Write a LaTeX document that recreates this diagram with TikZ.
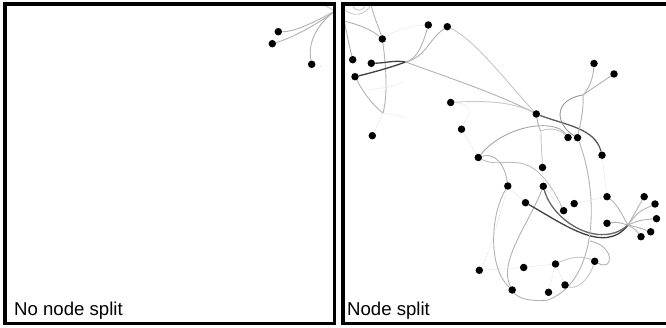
\documentclass[tikz,border=0pt]{standalone}
\usepackage{fontspec}
\setmainfont{Liberation Sans}
\usetikzlibrary{positioning,backgrounds}
\tikzset{
	vertex/.style={circle,fill=black,inner sep=0pt,minimum size=7.5pt},
	bundle/.style={black!30,line width=0.9pt},
	strong/.style={black!75,line width=1.3pt},
	faint/.style={black!18,densely dotted,line width=0.6pt},
	frame/.style={line width=3.5pt},
	caption/.style={anchor=base west,inner sep=0pt,font=\fontsize{18.6}{20}\selectfont}
}

\begin{document}
\begin{tikzpicture}[x=1pt,y=-1pt]
\useasboundingbox (0,0) rectangle (666,328);

% left panel
\node[vertex] (l1) at (278.3,31.7) {};
\node[vertex] (l2) at (272.3,43.7) {};
\node[vertex] (l3) at (311.7,64.3) {};
\coordinate (cL) at (335,11);
\coordinate (cLtop) at (320,3);
\coordinate (cLtick) at (322,67);

% right panel
\node[vertex] (r1) at (428.3,25) {};
\node[vertex] (r2) at (447.3,26.7) {};
\node[vertex] (r3) at (382.3,39) {};
\node[vertex] (r4) at (352.7,59.7) {};
\node[vertex] (r5) at (371.3,63.3) {};
\node[vertex] (r6) at (355,76.7) {};
\node[vertex] (r7) at (594,63.5) {};
\node[vertex] (r8) at (614,74) {};
\node[vertex] (r9) at (450.7,102.5) {};
\node[vertex] (r10) at (536.3,114) {};
\node[vertex] (r11) at (461.5,129.2) {};
\node[vertex] (r12) at (372.3,135.7) {};
\node[vertex] (r13) at (568,137.5) {};
\node[vertex] (r14) at (577.5,137.7) {};
\node[vertex] (r15) at (478.3,157.5) {};
\node[vertex] (r16) at (602,155.2) {};
\node[vertex] (r17) at (542.5,167.5) {};
\node[vertex] (r18) at (507.8,186) {};
\node[vertex] (r19) at (543.3,186.3) {};
\node[vertex] (r20) at (525.5,202.7) {};
\node[vertex] (r21) at (574.2,203.6) {};
\node[vertex] (r22) at (563.6,210.7) {};
\node[vertex] (r23) at (607,196.7) {};
\node[vertex] (r24) at (644.2,196.7) {};
\node[vertex] (r25) at (655,204) {};
\node[vertex] (r26) at (656.5,218.7) {};
\node[vertex] (r27) at (607,223.3) {};
\node[vertex] (r28) at (650.7,231.8) {};
\node[vertex] (r29) at (641,236.7) {};
\node[vertex] (r30) at (594.7,261.3) {};
\node[vertex] (r31) at (555.5,264) {};
\node[vertex] (r32) at (523.7,267.5) {};
\node[vertex] (r33) at (479.3,270.3) {};
\node[vertex] (r34) at (565,285) {};
\node[vertex] (r35) at (512.2,290) {};
\node[vertex] (r36) at (548.5,292.3) {};

\coordinate (cTL1) at (343,21);
\coordinate (cTL2) at (343,14);
\coordinate (cTL3) at (343,8);
\coordinate (cTop1) at (371,4);
\coordinate (cTop2) at (352,4);
\coordinate (cTop3) at (366,4);
\coordinate (jC) at (405.5,62);
\coordinate (jH) at (383,113);
\coordinate (jH2) at (404,117);
\coordinate (jD1) at (366,90);
\coordinate (jD2) at (390,87);
\coordinate (jD3) at (404,82);
\coordinate (jN) at (583,95);
\coordinate (jK) at (541,131);
\coordinate (jF) at (628,225);
\coordinate (jLoop) at (590,241);
\coordinate (jB) at (548,300);

\begin{pgfonlayer}{background}
% left panel bundle
\draw[bundle] (l1) .. controls (296,32) and (318,20) .. (cL);
\draw[bundle] (l2) .. controls (292,38) and (318,24) .. (cL);
\draw[bundle] (l3) .. controls (307,40) and (320,22) .. (cL);
\draw[bundle,black!22] (cLtop) .. controls (326,6) .. (cL);
\draw[faint] (l3) -- (cLtick);

% top left corner
\draw[bundle] (cTL1) .. controls (358,24) and (372,30) .. (r3);
\draw[bundle] (cTop1) .. controls (373,15) and (378,25) .. (r3);
\draw[bundle] (r4) .. controls (348,40) and (345,25) .. (cTL2);
\draw[bundle,black!20] (cTL3) .. controls (352,18) and (366,16) .. (cTop1);
\draw[bundle,black!20] (cTop2) .. controls (355,13) and (363,12) .. (cTop3);

% down from r3 and r6
\draw[bundle] (r3) .. controls (386,65) and (388,95) .. (jH);
\draw[bundle] (r6) .. controls (362,90) and (372,105) .. (jH);
\draw[faint] (jH) -- (r12);
\draw[faint] (jH) -- (jH2);
\draw[faint] (jD1) -- (jD2) -- (jD3);

% strong pair
\draw[strong] (r5) .. controls (385,63) and (395,60) .. (jC);
\draw[strong] (r6) .. controls (375,72) and (395,66) .. (jC);
\draw[bundle] (jC) .. controls (418,60) and (424,40) .. (r1);
\draw[bundle] (jC) .. controls (425,58) and (430,38) .. (r2);
\draw[bundle] (jC) .. controls (450,78) and (500,95) .. (r10);
\draw[bundle,black!22] (r2) .. controls (475,40) and (505,80) .. (r10);
\draw[faint] (r3) .. controls (395,30) and (415,25) .. (r1);
\draw[bundle,black!22] (r9) .. controls (490,100) and (515,103) .. (r10);

% right of r10
\draw[strong,black!65] (r10) .. controls (565,125) and (595,128) .. (r16);
\draw[bundle] (r7) .. controls (593,80) and (588,90) .. (jN);
\draw[bundle] (r8) .. controls (602,82) and (590,90) .. (jN);
\draw[bundle,black!40] (jN) .. controls (552,100) and (556,125) .. (r14);
\draw[bundle] (jN) .. controls (584,110) and (580,125) .. (r14);
\draw[bundle,black!35] (r15) .. controls (505,125) and (555,118) .. (r13);
\draw[bundle] (r10) .. controls (538,125) and (539,128) .. (jK);
\draw[bundle,black!22] (jK) .. controls (541,145) and (542,155) .. (r17);
\draw[bundle,black!22] (jK) .. controls (548,128) and (558,128) .. (r13);
\draw[bundle,black!25] (r15) .. controls (505,172) and (530,140) .. (r22);

% left arc
\draw[bundle] (r15) .. controls (495,152) and (505,165) .. (r18);
\draw[bundle] (r18) .. controls (490,215) and (488,268) .. (r35);
\draw[bundle] (r19) .. controls (528,225) and (498,262) .. (r35);

% strong pair to the fan
\draw[strong] (r20) .. controls (565,225) and (605,255) .. (jF);
\draw[strong,black!60] (r19) .. controls (553,222) and (600,250) .. (jF);
\draw[bundle] (jF) .. controls (635,212) .. (r24);
\draw[bundle] (jF) .. controls (638,212) .. (r25);
\draw[bundle] (jF) .. controls (640,220) .. (r26);
\draw[bundle] (jF) .. controls (640,228) .. (r28);
\draw[bundle] (jF) .. controls (636,230) .. (r29);
\draw[bundle] (r23) .. controls (618,205) and (622,215) .. (jF);
\draw[bundle] (r27) .. controls (617,222) .. (jF);

% lower loop
\draw[bundle] (jLoop) .. controls (615,246) and (614,272) .. (r30);
\draw[bundle] (r14) .. controls (598,190) and (600,280) .. (jB);
\draw[bundle] (jB) .. controls (530,302) and (518,298) .. (r35);
\draw[bundle,black!22] (r31) .. controls (575,255) and (585,257) .. (r30);
\draw[bundle,black!22] (r30) .. controls (588,282) and (575,290) .. (r34);

% faint links
\draw[faint] (r16) -- (r23);
\draw[faint] (r17) -- (r19);
\draw[faint] (r18) -- (r20);
\draw[faint] (r11) -- (r15);
\draw[faint] (r21) -- (r23);
\draw[faint] (r22) -- (r19);
\draw[faint] (r33) -- (r32) -- (r31) -- (r34);
\draw[faint] (r31) -- (r36);
\draw[faint] (r33) .. controls (490,250) .. (r18);
\draw[faint] (r9) .. controls (480,105) and (465,120) .. (r11);
\end{pgfonlayer}

% frames
\draw[frame] (5,4) rectangle (334.5,323.5);
\draw[frame] (668,4) -- (343,4) -- (343,323.5) -- (668,323.5);

\node[caption] (capl) at (14,316) {No node split};
\node[caption] (capr) at (347,316) {Node split};
\end{tikzpicture}
\end{document}
